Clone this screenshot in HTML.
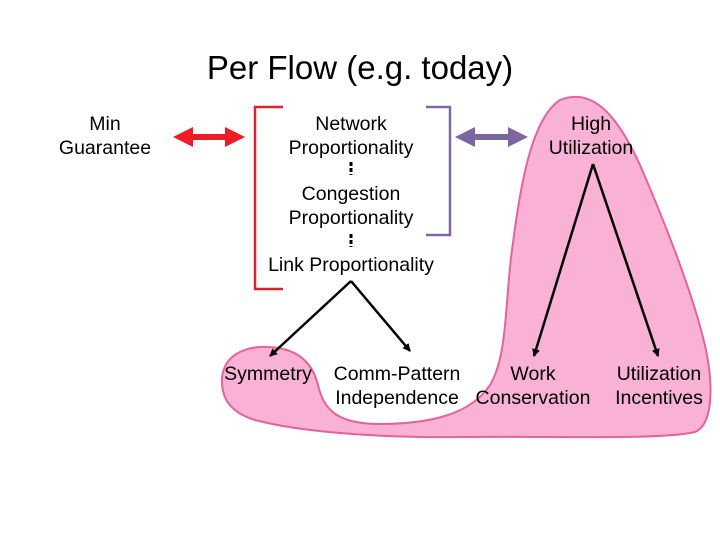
<!DOCTYPE html>
<html><head><style>
body{margin:0;background:#fff}
svg text{font-family:"Liberation Sans",Arial,sans-serif;font-size:19.5px;fill:#000}
</style></head><body>
<svg width="720" height="540" viewBox="0 0 720 540" xmlns="http://www.w3.org/2000/svg">
<defs>
<marker id="ah" markerWidth="8" markerHeight="8" refX="7" refY="4" orient="auto" markerUnits="userSpaceOnUse" viewBox="0 0 8 8"><path d="M0,0 L8,4 L0,8 z" fill="#000"/></marker>
</defs>
<path d="M222,378 C224,355 245,346 268,347 C295,348 312,360 318,385 C324,412 340,425 385,424 C430,423 470,415 490,385 C508,355 505,300 512,250 C520,190 530,120 560,100 C590,88 615,110 640,165 C668,230 695,300 706,350 C714,390 712,425 695,432 C660,440 560,436 460,437 C380,438 300,432 255,420 C232,413 221,400 222,378 Z" fill="#f9b2d6" stroke="#e2649a" stroke-width="2"/>
<text x="360" y="79" text-anchor="middle" style="font-size:33px">Per Flow (e.g. today)</text>
<text x="105" y="130" text-anchor="middle">Min</text>
<text x="105" y="154" text-anchor="middle">Guarantee</text>
<path d="M283,107 H255 V289 H283" fill="none" stroke="#e0202a" stroke-width="2.5"/>
<path d="M426,107 H450 V235 H426" fill="none" stroke="#7f67a3" stroke-width="2.5"/>
<path d="M173,137 L193,127 V134 H225 V127 L245,137 L225,147 V140 H193 V147 Z" fill="#ee1c24"/>
<path d="M455,137 L475,127 V134 H508 V127 L528,137 L508,147 V140 H475 V147 Z" fill="#7b66a0"/>
<text x="351" y="130" text-anchor="middle">Network</text>
<text x="351" y="154" text-anchor="middle">Proportionality</text>
<text x="351" y="200" text-anchor="middle">Congestion</text>
<text x="351" y="224" text-anchor="middle">Proportionality</text>
<text x="351" y="271" text-anchor="middle">Link Proportionality</text>
<path d="M351,162 V175 M351,234 V247" stroke="#000" stroke-width="3" stroke-dasharray="4,2"/>
<text x="591" y="130" text-anchor="middle">High</text>
<text x="591" y="154" text-anchor="middle">Utilization</text>
<g stroke="#000" stroke-width="2.5" fill="none" marker-end="url(#ah)">
<line x1="351" y1="281" x2="270" y2="356"/>
<line x1="351" y1="281" x2="410" y2="351"/>
<line x1="593" y1="164" x2="534" y2="356"/>
<line x1="593" y1="164" x2="658" y2="356"/>
</g>
<text x="268" y="380" text-anchor="middle">Symmetry</text>
<text x="397" y="380" text-anchor="middle">Comm-Pattern</text>
<text x="397" y="404" text-anchor="middle">Independence</text>
<text x="533" y="380" text-anchor="middle">Work</text>
<text x="533" y="404" text-anchor="middle">Conservation</text>
<text x="659" y="380" text-anchor="middle">Utilization</text>
<text x="659" y="404" text-anchor="middle">Incentives</text>
</svg>
</body></html>
